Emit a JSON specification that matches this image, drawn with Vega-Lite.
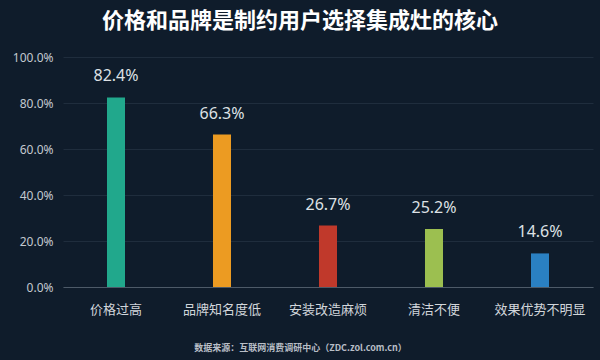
{
  "$schema": "https://vega.github.io/schema/vega-lite/v6.json",
  "width": 530,
  "height": 230,
  "autosize": "none",
  "padding": {"left": 63, "top": 57, "right": 7, "bottom": 73},
  "background": "#0f1c2b",
  "title": {
    "text": "价格和品牌是制约用户选择集成灶的核心",
    "font": "Noto Sans CJK SC",
    "fontSize": 22,
    "fontWeight": "bold",
    "color": "#ffffff",
    "anchor": "middle",
    "dx": -28,
    "offset": 18
  },
  "data": {
    "values": [
      {"reason": "价格过高", "value": 0.824},
      {"reason": "品牌知名度低", "value": 0.663},
      {"reason": "安装改造麻烦", "value": 0.267},
      {"reason": "清洁不便", "value": 0.252},
      {"reason": "效果优势不明显", "value": 0.146}
    ]
  },
  "encoding": {
    "x": {
      "field": "reason",
      "type": "nominal",
      "sort": null,
      "scale": {"paddingInner": 0.83, "paddingOuter": 0.415},
      "axis": {
        "title": "数据来源：互联网消费调研中心（ZDC.zol.com.cn）",
        "titleFont": "Noto Sans CJK SC",
        "titleFontSize": 9,
        "titleFontWeight": "bold",
        "titleColor": "#b8bec6",
        "titleX": 237,
        "titlePadding": 27,
        "labelAngle": 0,
        "labelFont": "Noto Sans CJK SC",
        "labelFontSize": 13,
        "labelColor": "#d2d6db",
        "labelPadding": 16,
        "ticks": false,
        "domainColor": "#4d5a68",
        "domainWidth": 1
      }
    },
    "y": {
      "field": "value",
      "type": "quantitative",
      "scale": {"domain": [0, 1]},
      "axis": {
        "title": null,
        "format": ".1%",
        "values": [0, 0.2, 0.4, 0.6, 0.8, 1.0],
        "labelFont": "Noto Sans",
        "labelFontSize": 12,
        "labelColor": "#c3c9d0",
        "labelPadding": 10,
        "ticks": false,
        "domain": false,
        "gridColor": "#1f2d3d",
        "gridWidth": 1
      }
    }
  },
  "layer": [
    {
      "mark": {"type": "bar"},
      "encoding": {
        "color": {
          "field": "reason",
          "type": "nominal",
          "sort": null,
          "scale": {
            "domain": ["价格过高", "品牌知名度低", "安装改造麻烦", "清洁不便", "效果优势不明显"],
            "range": ["#21a88c", "#ec9b22", "#c0392b", "#9cbf50", "#2a80c2"]
          },
          "legend": null
        }
      }
    },
    {
      "mark": {
        "type": "text",
        "baseline": "bottom",
        "dy": -13,
        "font": "Noto Sans",
        "fontSize": 16,
        "color": "#dde1e5"
      },
      "encoding": {
        "text": {"field": "value", "type": "quantitative", "format": ".1%"}
      }
    }
  ],
  "config": {
    "view": {"stroke": null}
  }
}
